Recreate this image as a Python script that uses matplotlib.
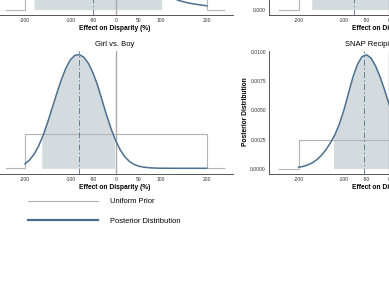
import matplotlib
matplotlib.use('Agg')
import matplotlib.pyplot as plt
from matplotlib.lines import Line2D
from matplotlib.ticker import FormatStrFormatter
import numpy as np

plt.rcParams['font.family'] = ['Liberation Sans', 'DejaVu Sans']
plt.rcParams['axes.unicode_minus'] = False

BLUE = '#4b6f8e'
SHADE = '#d3dbdf'
GREY = '#b4b4b4'

tick_vals = [-200, -100, -50, 0, 50, 100, 200]
tick_labels = ['-200', '-100', '-50', '0', '50', '100', '200']

# uniform prior on [-200, 200]
prior_x = [-242, -200, -200, 200, 200, 238]
prior_y = [0, 0, 0.0025, 0.0025, 0, 0]

# Girl vs. Boy (posterior density, x1e-3)
girl_x = list(range(-200, 201, 10))
girl_post = [0.32, 0.60, 1.02, 1.62, 2.40, 3.35, 4.40, 5.45, 6.45, 7.30,
             7.92, 8.25, 8.30, 8.10, 7.65, 6.95, 6.05, 4.95, 3.85, 2.85,
             2.00, 1.33, 0.84, 0.50, 0.29, 0.16, 0.09, 0.05, 0.025, 0.012,
             0.006, 0.003, 0.002, 0.001, 0.0, 0.0, 0.0, 0.0, 0.0, 0.0, 0.0]
girl_mean = -82
girl_ci = (-163, -3)

# SNAP recipients (posterior density, x1e-3)
snap_x = list(range(-200, 201, 10))
snap_post = [0.11, 0.18, 0.30, 0.48, 0.75, 1.12, 1.60, 2.20, 2.90, 3.85,
             5.05, 6.50, 7.90, 9.00, 9.65, 9.80, 9.50, 8.80, 7.85, 6.70,
             5.45, 4.25, 3.15, 2.25, 1.55, 1.00, 0.62, 0.38, 0.22, 0.12,
             0.07, 0.04, 0.02, 0.01, 0.01, 0.0, 0.0, 0.0, 0.0, 0.0, 0.0]
snap_mean = -55
snap_ci = (-123, 15)

# top row panels (only their bottom edge is in view)
top_x = list(range(-200, 201, 20))
topl_post = [0.75, 1.15, 1.70, 2.35, 3.05, 3.80, 4.50, 5.00, 5.15, 5.10,
             4.75, 4.10, 3.30, 2.50, 1.80, 1.25, 0.58, 0.42, 0.31, 0.24, 0.18]
topl_mean = -50
topl_ci = (-180, 101)
topr_post = [1.05, 1.75, 2.65, 3.70, 4.75, 5.60, 6.00, 5.85, 5.20, 4.20,
             3.10, 2.10, 1.30, 0.75, 0.40, 0.20, 0.10, 0.05, 0.02, 0.01, 0.005]
topr_mean = -79
topr_ci = (-171, 40)


def draw_panel(ax, x, post, mean, ci, ylim, title=None, ylabel=None, yticks=None, yfmt=None):
    x = np.array(x, dtype=float)
    y = np.array(post) / 1000.0
    lo, hi = ci
    m = (x > lo) & (x < hi)
    fx = np.concatenate([[lo], x[m], [hi]])
    fy = np.concatenate([[np.interp(lo, x, y)], y[m], [np.interp(hi, x, y)]])
    ax.fill_between(fx, 0, fy, color=SHADE, lw=0, zorder=1)
    ax.axvline(0, color='#ababab', lw=1.0, zorder=2)
    ax.plot(prior_x, prior_y, color=GREY, lw=0.8, zorder=3)
    ax.plot(x, y, color=BLUE, lw=1.1, zorder=4)
    ax.axvline(mean, color=BLUE, lw=0.6, dashes=(7, 3, 1.5, 3), zorder=5)

    ax.set_xlim(-265, 258)
    ax.set_ylim(*ylim)
    ax.set_xticks(tick_vals)
    ax.set_xticklabels(tick_labels)
    if yticks is not None:
        ax.set_yticks(yticks)
        ax.yaxis.set_major_formatter(FormatStrFormatter(yfmt))
    else:
        ax.set_yticks([])
    ax.tick_params(length=0, labelsize=3.6, pad=2.2, colors='#333333')
    for s in ['top', 'right']:
        ax.spines[s].set_visible(False)
    for s in ['left', 'bottom']:
        ax.spines[s].set_linewidth(0.6)
        ax.spines[s].set_color('#3a3a3a')
    ax.set_xlabel('Effect on Disparity (%)', fontsize=4.8, fontweight='bold', labelpad=1.5)
    if ylabel:
        ax.set_ylabel(ylabel, fontsize=4.8, fontweight='bold', labelpad=1.0)
    if title:
        ax.set_title(title, fontsize=5.5, pad=3.2)


fig = plt.figure(figsize=(3.89, 2.91), dpi=100)
W, H = 389.0, 291.0
aw = 237.6 / W
ah = 123 / H

ax_tl = fig.add_axes([-4.6 / W, (H - 15) / H, aw, ah])
ax_tr = fig.add_axes([269 / W, (H - 15) / H, aw, ah])
ax_bl = fig.add_axes([-4.6 / W, (H - 173.5) / H, aw, ah])
ax_br = fig.add_axes([269 / W, (H - 173.5) / H, aw, ah])

draw_panel(ax_tl, top_x, topl_post, topl_mean, topl_ci, (-0.00025, 0.0055))
draw_panel(ax_tr, top_x, topr_post, topr_mean, topr_ci, (-0.0003, 0.0065),
           yticks=[0.0], yfmt='%.3f')
draw_panel(ax_bl, girl_x, girl_post, girl_mean, girl_ci, (-0.00038, 0.0086),
           title='Girl vs. Boy')
draw_panel(ax_br, snap_x, snap_post, snap_mean, snap_ci, (-0.00043, 0.01017),
           title='SNAP Recipients vs. Not', ylabel='Posterior Distribution',
           yticks=[0, 0.0025, 0.005, 0.0075, 0.01], yfmt='%.4f')

handles = [Line2D([], [], color=GREY, lw=0.8), Line2D([], [], color=BLUE, lw=1.6)]
fig.legend(handles, ['Uniform Prior', 'Posterior Distribution'], loc='upper left',
           bbox_to_anchor=(28 / W, (H - 198) / H), frameon=False, fontsize=5.4,
           handlelength=9.3, handletextpad=1.6, labelspacing=1.65,
           borderpad=0, borderaxespad=0)

fig.savefig('out.png', dpi=100)
